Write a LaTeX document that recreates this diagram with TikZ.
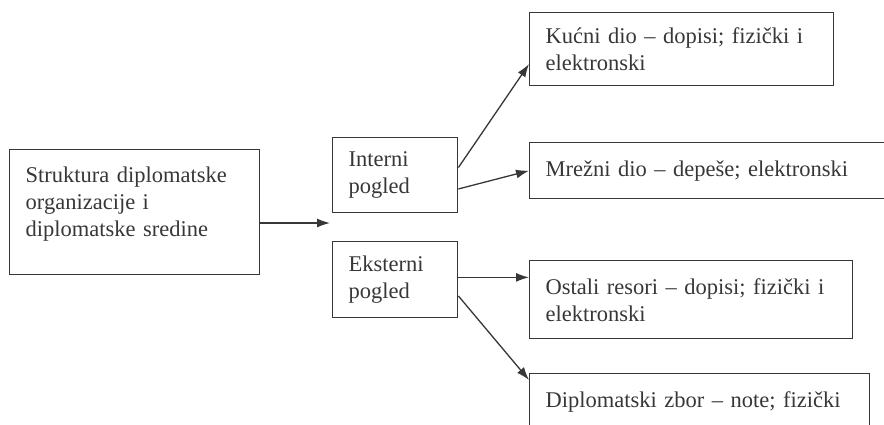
\documentclass[tikz,border=0pt]{standalone}
\usepackage{fontspec}
\setmainfont{Liberation Serif}
\definecolor{ink}{RGB}{55, 55, 55}
\usepackage{tikz}
\usetikzlibrary{arrows.meta}
\usetikzlibrary{calc}
\usetikzlibrary{positioning}
\tikzset{
    arrow/.style={-{Latex[length=13pt,width=9pt]}, draw=ink, line width=1.3pt},
    box/.style = {
      rectangle,
      draw=ink,
      line width=1.4pt,
      anchor=north west,
      align=left,
      inner xsep=16pt,
      inner ysep=6pt,
      text=ink,
      font=\fontsize{22.5}{27}\selectfont
    },
}
\begin{document}
\begin{tikzpicture}[x=1pt, y=-1pt]
      \useasboundingbox (0,0) rectangle (884,424);

      \node [box, text width=218pt, text height=27pt, text depth=86pt]
        (struktura) at (9,149)
        {Struktura diplomatske\\organizacije i\\diplomatske sredine};

      \node [box, text width=93pt, minimum height=75pt]
        (interni) at (332,137) {Interni\\pogled};
      \node [box, text width=93pt, minimum height=76pt]
        (eksterni) at (332,241) {Eksterni\\pogled};

      \node [box, text width=272pt, minimum height=73pt]
        (kucni) at (529,12) {Kućni dio – dopisi; fizički i\\elektronski};
      \node [box, text width=335pt, minimum height=56pt]
        (mrezni) at (529,142) {Mrežni dio – depeše; elektronski};
      \node [box, text width=291pt, minimum height=78pt]
        (ostali) at (529,260) {Ostali resori – dopisi; fizički i\\elektronski};
      \node [box, text width=308pt, minimum height=56pt]
        (zbor) at (529,373) {Diplomatski zbor – note; fizički};

      % point between the two views
      \coordinate (split) at (330,223);
      \draw[arrow] (struktura.east |- split) -- (split);

      \draw[arrow] ($(interni.north east)!0.4!(interni.south east)$)
        -- ($(kucni.south west)!0.3!(kucni.north west)$);
      \draw[arrow] ($(interni.north east)!0.68!(interni.south east)$)
        -- (mrezni.west);

      \coordinate (ext) at ($(eksterni.north east)!0.47!(eksterni.south east)$);
      \draw[arrow] (ext) -- (ext -| ostali.west);
      \draw[arrow] ($(eksterni.north east)!0.71!(eksterni.south east)$)
        -- ($(zbor.north west)+(0,7)$);
    \end{tikzpicture}
\end{document}
